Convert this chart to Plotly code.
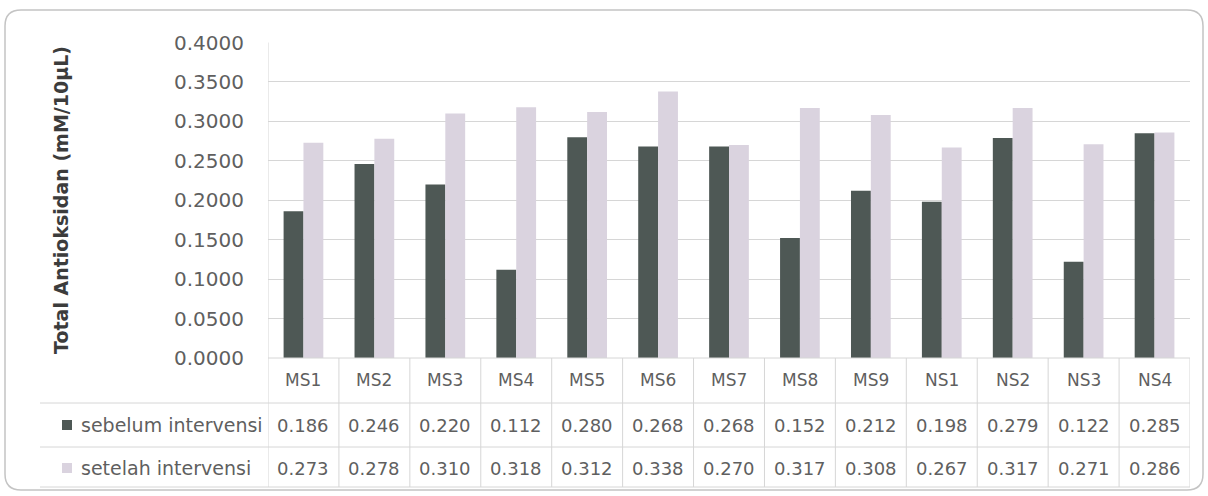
import plotly.graph_objects as go

categories = ["MS1", "MS2", "MS3", "MS4", "MS5", "MS6", "MS7", "MS8", "MS9", "NS1", "NS2", "NS3", "NS4"]
sebelum = [0.186, 0.246, 0.220, 0.112, 0.280, 0.268, 0.268, 0.152, 0.212, 0.198, 0.279, 0.122, 0.285]
setelah = [0.273, 0.278, 0.310, 0.318, 0.312, 0.338, 0.270, 0.317, 0.308, 0.267, 0.317, 0.271, 0.286]
series_names = ["sebelum intervensi", "setelah intervensi"]
y_ticks = [0.0, 0.05, 0.1, 0.15, 0.2, 0.25, 0.3, 0.35, 0.4]

W, H = 1208, 496
DARK = "#4e5855"
LIGHT = "#dad3df"
TXT = "#5f5f5f"
GRID = "#d6d6d6"
FONT = "'DejaVu Sans', sans-serif"

def py(pix):
    """Convert a pixel row (from top) to paper y."""
    return (H - pix) / H

def px(pix):
    return pix / W

fig = go.Figure()
fig.add_bar(x=categories, y=sebelum, name=series_names[0], marker_color=DARK,
            marker_line_width=0, showlegend=False)
fig.add_bar(x=categories, y=setelah, name=series_names[1], marker_color=LIGHT,
            marker_line_width=0, showlegend=False)

plot_left, plot_right = 268, 1190
plot_top, plot_bottom = 42.5, 358

fig.update_layout(
    width=W, height=H,
    margin=dict(l=0, r=0, t=0, b=0, autoexpand=False),
    paper_bgcolor="white", plot_bgcolor="white",
    barmode="group", bargap=0.44, bargroupgap=0,
    showlegend=False,
    font=dict(family=FONT, color=TXT),
    xaxis=dict(domain=[px(plot_left), px(plot_right)], showticklabels=False,
               showgrid=False, zeroline=False, showline=False, ticks="",
               automargin=False, range=[-0.5, len(categories) - 0.5]),
    yaxis=dict(domain=[py(plot_bottom), py(plot_top)], range=[0, 0.4],
               tickvals=y_ticks, tickformat=".4f", showgrid=True, gridcolor=GRID,
               gridwidth=1, zeroline=False, showline=False, ticks="", automargin=False,
               ticklabelstandoff=23, tickfont=dict(size=20, color=TXT, family=FONT)),
)

# y-axis title
fig.add_annotation(text="<b>Total Antioksidan (mM/10µL)</b>", xref="paper", yref="paper",
                   x=px(61), y=py(200), xanchor="center", yanchor="middle",
                   textangle=-90, showarrow=False,
                   font=dict(size=19, color="#3c3c3c", family=FONT))

shapes = []
# plot baseline and left border
shapes.append(dict(type="line", xref="paper", yref="paper", x0=px(plot_left), x1=px(plot_right),
                   y0=py(plot_bottom), y1=py(plot_bottom), line=dict(color=GRID, width=1)))
shapes.append(dict(type="line", xref="x", yref="paper", x0=-0.5, x1=-0.5,
                   y0=py(487), y1=py(plot_top), line=dict(color=GRID, width=1)))
# column separators of the data table
for i in range(1, len(categories) + 1):
    shapes.append(dict(type="line", xref="x", yref="paper", x0=i - 0.5, x1=i - 0.5,
                       y0=py(487), y1=py(plot_bottom), line=dict(color=GRID, width=1)))
# table row separators
for row_y in (403, 447, 487):
    shapes.append(dict(type="line", xref="paper", yref="paper", x0=px(40), x1=px(plot_right),
                       y0=py(row_y), y1=py(row_y), line=dict(color=GRID, width=1)))

# legend keys of the data table
for color, row_y in ((DARK, 425), (LIGHT, 468)):
    shapes.append(dict(type="rect", xref="paper", yref="paper", x0=px(62), x1=px(72),
                       y0=py(row_y + 5), y1=py(row_y - 5), fillcolor=color, line_width=0))

# rounded outer frame
x0, y0, x1, y1, r = px(5), py(10), px(1203), py(490), 16
rx, ry = r / W, r / H
path = (f"M {x0 + rx},{y0} L {x1 - rx},{y0} Q {x1},{y0} {x1},{y0 - ry} "
        f"L {x1},{y1 + ry} Q {x1},{y1} {x1 - rx},{y1} L {x0 + rx},{y1} "
        f"Q {x0},{y1} {x0},{y1 + ry} L {x0},{y0 - ry} Q {x0},{y0} {x0 + rx},{y0} Z")
shapes.append(dict(type="path", xref="paper", yref="paper", path=path,
                   line=dict(color="#c4c4c4", width=1.5)))
fig.update_layout(shapes=shapes)

# category labels and values in the data table
cell_font = dict(size=18, color=TXT, family=FONT)
for i, cat in enumerate(categories):
    fig.add_annotation(text=cat, x=cat, xref="x", yref="paper", y=py(380), yanchor="middle",
                       showarrow=False, font=dict(size=17, color=TXT, family=FONT))
    fig.add_annotation(text=f"{sebelum[i]:.3f}", x=cat, xref="x", yref="paper", y=py(425),
                       yanchor="middle", showarrow=False, font=cell_font)
    fig.add_annotation(text=f"{setelah[i]:.3f}", x=cat, xref="x", yref="paper", y=py(468),
                       yanchor="middle", showarrow=False, font=cell_font)

# series names of the data table
for name, row_y in ((series_names[0], 425), (series_names[1], 468)):
    fig.add_annotation(text=name, xref="paper", yref="paper", x=px(79), y=py(row_y),
                       xanchor="left", yanchor="middle", showarrow=False,
                       font=dict(size=19, color=TXT, family=FONT))

fig.write_html("out.html")
